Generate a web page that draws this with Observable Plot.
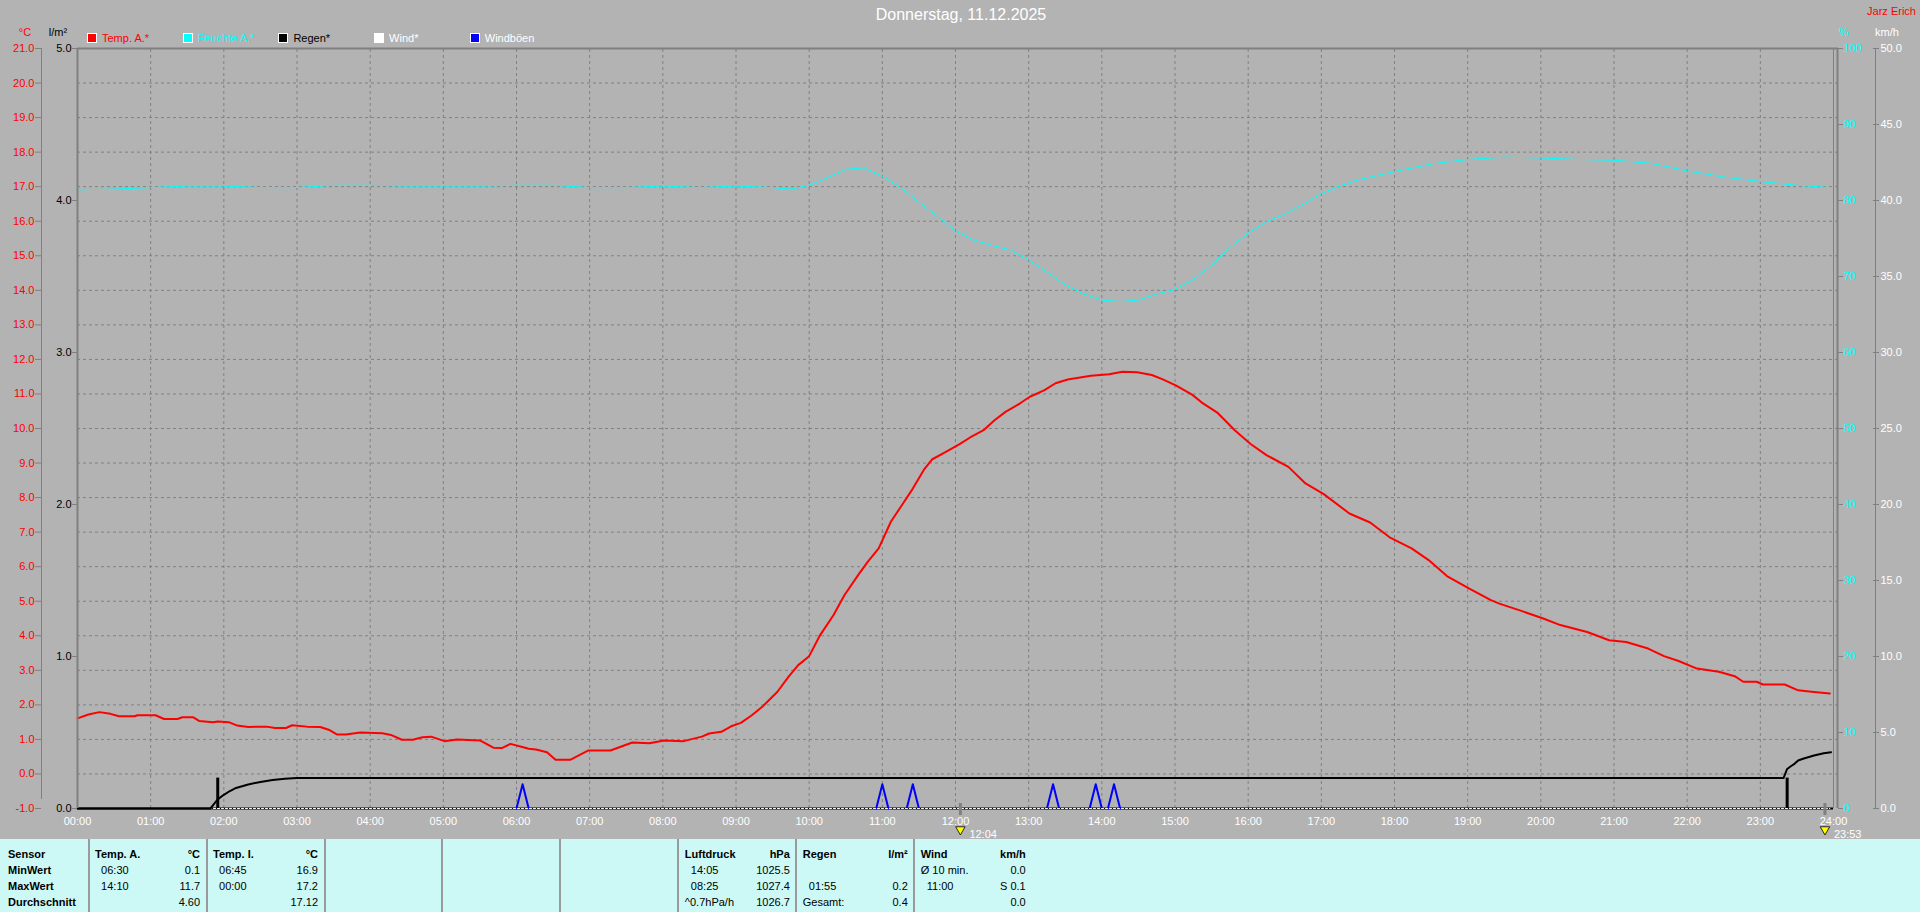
<!DOCTYPE html>
<html><head><meta charset="utf-8">
<script src="https://cdn.jsdelivr.net/npm/d3@7"></script>
<script src="https://cdn.jsdelivr.net/npm/@observablehq/plot@0.6"></script>
<style>
html,body{margin:0;padding:0;background:#b3b3b3;}
#root{position:relative;width:1920px;height:912px;overflow:hidden;font-family:"Liberation Sans",Arial,sans-serif;font-size:11px;background:#b3b3b3;}
.abs{position:absolute;white-space:nowrap;line-height:14px;}
#table{position:absolute;left:0;top:839px;width:1920px;height:73px;background:#ccf9f5;}
</style></head><body><div id="root"><div id="table"></div></div>
<script>
// ---------- DATA ----------
const chartTitle = "Donnerstag, 11.12.2025";
const stationName = "Jarz Erich";

const hourTicks = [0,1,2,3,4,5,6,7,8,9,10,11,12,13,14,15,16,17,18,19,20,21,22,23,24];
const tempTicks = [-1,0,1,2,3,4,5,6,7,8,9,10,11,12,13,14,15,16,17,18,19,20,21];
const rainTicks = [0,1,2,3,4,5];
const humTicks = [0,10,20,30,40,50,60,70,80,90,100];
const windTicks = [0,5,10,15,20,25,30,35,40,45,50];

const legendLabels = ["Temp. A.*","Feuchte A.*","Regen*","Wind*","Windböen"];
const legendColors = ["#ff0000","#00ffff","#000000","#ffffff","#0000ff"];
const legendTextColors = ["#ff0000","#00ffff","#000000","#ffffff","#ffffff"];

const tempTimes = ["00:00","00:09","00:18","00:27","00:34","00:47","00:49","01:04","01:11","01:22","01:26","01:35","01:40","01:51","01:55","02:04","02:11","02:20","02:35","02:42","02:51","02:56","03:08","03:19","03:26","03:33","03:40","03:52","04:10","04:17","04:26","04:35","04:43","04:50","05:01","05:11","05:30","05:41","05:48","05:55","06:04","06:10","06:16","06:25","06:32","06:44","06:59","07:17","07:35","07:49","08:01","08:17","08:32","08:38","08:48","08:56","09:04","09:13","09:22","09:34","09:43","09:51","10:00","10:09","10:20","10:29","10:41","10:48","10:57","11:07","11:16","11:25","11:34","11:41","11:51","12:03","12:12","12:23","12:32","12:41","12:53","13:01","13:13","13:22","13:32","13:51","14:06","14:17","14:29","14:41","14:50","15:01","15:14","15:22","15:35","15:49","16:02","16:15","16:33","16:47","17:02","17:23","17:40","17:56","18:14","18:28","18:43","19:01","19:19","19:26","19:44","20:02","20:16","20:38","20:56","21:10","21:28","21:41","21:53","22:08","22:26","22:39","22:46","22:57","23:02","23:20","23:31","23:42","23:57"];
const tempValues = [1.61,1.72,1.79,1.74,1.67,1.67,1.70,1.70,1.59,1.59,1.64,1.64,1.53,1.50,1.52,1.50,1.40,1.36,1.37,1.33,1.33,1.41,1.37,1.36,1.28,1.14,1.14,1.20,1.18,1.13,0.99,0.99,1.06,1.08,0.95,1.00,0.97,0.76,0.75,0.87,0.79,0.73,0.71,0.63,0.41,0.41,0.68,0.68,0.91,0.89,0.97,0.95,1.08,1.17,1.22,1.38,1.48,1.70,1.96,2.38,2.81,3.15,3.41,4.02,4.60,5.18,5.80,6.14,6.53,7.30,7.78,8.26,8.80,9.11,9.30,9.54,9.74,9.95,10.24,10.48,10.73,10.92,11.11,11.31,11.42,11.53,11.57,11.64,11.63,11.55,11.42,11.24,10.98,10.75,10.45,9.95,9.55,9.23,8.89,8.41,8.10,7.54,7.28,6.85,6.53,6.19,5.73,5.37,5.03,4.93,4.72,4.50,4.31,4.11,3.87,3.82,3.63,3.41,3.27,3.05,2.96,2.83,2.67,2.67,2.59,2.59,2.42,2.38,2.33];

const humTimes = ["00:00","00:30","01:00","01:30","02:00","02:30","03:00","03:30","04:00","04:30","05:00","05:30","06:00","06:30","07:00","07:30","08:00","08:30","09:00","09:30","09:45","10:00","10:15","10:30","10:45","11:00","11:15","11:30","11:45","12:00","12:15","12:30","12:45","13:00","13:15","13:30","13:45","14:00","14:15","14:30","14:45","15:00","15:15","15:30","15:45","16:00","16:15","16:30","16:45","17:00","17:15","17:30","18:00","18:30","19:00","19:30","20:00","20:30","21:00","21:30","22:00","22:30","23:00","23:30","23:57"];
const humValues = [81.4,81.5,81.7,81.9,81.9,81.7,81.7,82.0,82.0,81.9,81.9,81.9,82.0,82.0,81.7,81.7,81.9,81.7,81.9,81.7,81.5,82.0,83.0,84.1,84.3,83.2,81.7,79.8,77.9,76.0,74.8,74.1,73.5,72.2,70.6,68.9,67.7,66.9,66.7,66.9,67.7,68.3,69.6,71.5,73.8,75.7,77.2,78.2,79.5,80.9,81.9,82.7,83.8,84.8,85.4,85.7,85.6,85.4,85.3,84.9,83.9,83.1,82.5,82.0,81.7];

const rainTimes = ["00:00","01:49","01:52","01:55","02:00","02:05","02:10","02:20","02:30","02:40","02:50","03:00","23:19","23:22","23:25","23:28","23:31","23:35","23:44","23:52","23:58"];
const rainValues = [0,0,0.03,0.06,0.09,0.115,0.135,0.158,0.175,0.187,0.195,0.2,0.2,0.26,0.278,0.294,0.316,0.327,0.349,0.363,0.37];
const rainBarTimes = ["01:55","23:22"];
const rainBarValues = [0.2,0.2];

const gustTimes = ["06:00","06:05","06:10","10:55","11:00","11:05","11:20","11:25","11:30","13:15","13:20","13:25","13:50","13:55","14:00","14:05","14:10","14:15"];
const gustValues = [0,1.6,0,0,1.6,0,0,1.6,0,0,1.6,0,0,1.6,0,0,1.6,0];

const windTimes = ["00:00","23:57"];
const windValues = [0,0];

const markerTimes = ["12:04","23:53"];

const statRowLabels = ["Sensor","MinWert","MaxWert","Durchschnitt"];
const statHeaders = [["Temp. A.","°C"],["Temp. I.","°C"],null,null,null,["Luftdruck","hPa"],["Regen","l/m²"],["Wind","km/h"]];
const statRows = [
  [["06:30","0.1"],["14:10","11.7"],["","4.60"]],
  [["06:45","16.9"],["00:00","17.2"],["","17.12"]],
  null,null,null,
  [["14:05","1025.5"],["08:25","1027.4"],["^0.7hPa/h","1026.7"]],
  [["",""],["01:55","0.2"],["Gesamt:","0.4"]],
  [["Ø 10 min.","0.0"],["11:00","S 0.1"],["","0.0"]]
];

// ---------- HELPERS ----------
const toH = s => { const [h, m] = s.split(":").map(Number); return h + m / 60; };
const zip = (times, values) => times.map((t, i) => ({h: toH(t), v: values[i], i}));
const rainToY = r => -1 + r * 22 / 5;
const humToY = p => -1 + p * 22 / 100;
const windToY = k => -1 + k * 22 / 50;
const hhmm = h => String(h).padStart(2, "0") + ":00";

const temp = zip(tempTimes, tempValues);
const hum = zip(humTimes, humValues);
const rain = zip(rainTimes, rainValues);
const rainBars = zip(rainBarTimes, rainBarValues);
const gust = zip(gustTimes, gustValues);
const wind = zip(windTimes, windValues);
const markers = markerTimes.map(t => ({h: toH(t), t}));

const grey = "#808080";

const chart = Plot.plot({
  width: 1920, height: 839,
  marginTop: 48, marginRight: 87, marginBottom: 31, marginLeft: 77,
  x: {domain: [0, 24]},
  y: {domain: [-1, 21]},
  style: {background: "transparent", color: "black", fontFamily: "'Liberation Sans', Arial, sans-serif", fontSize: "11px", overflow: "visible"},
  marks: [
    // grid
    Plot.ruleY(tempTicks.filter(v => v > -1 && v < 21), {stroke: grey, strokeDasharray: "3,3", insetRight: -4}),
    Plot.ruleX(hourTicks.filter(h => h > 0 && h < 24), {stroke: grey, strokeDasharray: "3,3", y1: -1, y2: 21}),
    // frame & axis lines
    Plot.ruleX([24], {stroke: grey, y1: -1, y2: 21}),
    Plot.ruleX([24], {stroke: grey, strokeWidth: 2, dx: 4, y1: -1, y2: 21}),
    Plot.ruleX([24], {stroke: grey, dx: 42, y1: -1, y2: 21}),
    Plot.ruleX([0], {stroke: grey, dx: -36, y1: -1, y2: 21, insetTop: -9}),
    Plot.ruleY([21], {stroke: grey, strokeWidth: 2, insetRight: -5}),
    // humidity
    Plot.line(hum, {x: "h", y: d => humToY(d.v), stroke: "#00ffff", strokeWidth: 1}),
    // temperature
    Plot.line(temp, {x: "h", y: "v", stroke: "#ff0000", strokeWidth: 2}),
    // baseline
    Plot.ruleY([-1], {stroke: "#000000", strokeWidth: 2}),
    // gusts
    Plot.line(gust, {x: "h", y: d => windToY(d.v), z: d => Math.floor(d.i / 3), stroke: "#0000ff", strokeWidth: 2}),
    // wind
    Plot.line(wind, {x: "h", y: d => windToY(d.v), stroke: "#ffffff", strokeWidth: 1, strokeDasharray: "2,2"}),
    // rain
    Plot.line(rain, {x: "h", y: d => rainToY(d.v), stroke: "#000000", strokeWidth: 2}),
    Plot.ruleX(rainBars, {x: "h", y1: rainToY(0), y2: d => rainToY(d.v), stroke: "#000000", strokeWidth: 3}),
    Plot.ruleX([0], {stroke: grey, strokeWidth: 2, y1: -1, y2: 21}),
    // time markers
    Plot.ruleX(markers, {x: "h", y1: -1, y2: -1, insetTop: -5, insetBottom: -7, stroke: grey, strokeWidth: 3}),
    Plot.dot(markers, {x: "h", y: -1, dy: 21, symbol: "triangle", rotate: 180, r: 3.5, fill: "#ffff00", stroke: "#000000", strokeWidth: 0.8}),
    Plot.text(markers, {x: "h", y: -1, text: "t", dx: 9, dy: 26, textAnchor: "start", fill: "#ffffff", fontSize: 11}),
    // axes
    Plot.axisX({ticks: hourTicks, tickFormat: hhmm, tickSize: 0, tickPadding: 9, fill: "#ffffff", label: null}),
    Plot.axisY({anchor: "left", ticks: tempTicks, tickFormat: d => d.toFixed(1), dx: -36, tickSize: 6, tickPadding: 1, fill: "#ff0000", stroke: grey, label: null}),
    Plot.axisY({anchor: "left", ticks: rainTicks.map(rainToY), tickFormat: d => ((d + 1) * 5 / 22).toFixed(1), tickSize: 5, tickPadding: 1, fill: "#000000", stroke: grey, label: null}),
    Plot.axisY({anchor: "right", ticks: humTicks.map(humToY), tickFormat: d => String(Math.round((d + 1) * 100 / 22)), dx: 4, tickSize: 5, tickPadding: 1, fill: "#00ffff", stroke: grey, label: null}),
    Plot.axisY({anchor: "right", ticks: windTicks.map(windToY), tickFormat: d => ((d + 1) * 50 / 22).toFixed(1), dx: 39, tickSize: 6, tickPadding: 2, fill: "#ffffff", stroke: grey, label: null})
  ]
});
chart.style.position = "absolute";
chart.style.left = "0px";
chart.style.top = "0px";
const root = document.getElementById("root");
root.appendChild(chart);

// ---------- HTML TEXT ----------
function addText(parent, text, x, yc, {anchor = "start", color = "#000", size = 11, bold = false} = {}) {
  const el = document.createElement("div");
  el.className = "abs";
  el.textContent = text;
  el.style.color = color;
  el.style.fontSize = size + "px";
  el.style.lineHeight = (size + 4) + "px";
  el.style.top = (yc - (size + 4) / 2) + "px";
  if (bold) el.style.fontWeight = "bold";
  if (anchor === "start") el.style.left = x + "px";
  else if (anchor === "end") el.style.right = (1920 - x) + "px";
  else { el.style.left = x + "px"; el.style.transform = "translateX(-50%)"; }
  parent.appendChild(el);
  return el;
}
addText(root, chartTitle, 961, 15, {anchor: "middle", color: "#ffffff", size: 16});
addText(root, stationName, 1916, 11, {anchor: "end", color: "#ff0000", size: 11});
addText(root, "°C", 25, 32, {anchor: "middle", color: "#ff0000"});
addText(root, "l/m²", 58, 32, {anchor: "middle", color: "#000000"});
addText(root, "%", 1844, 32, {anchor: "middle", color: "#00ffff"});
addText(root, "km/h", 1887, 32, {anchor: "middle", color: "#ffffff"});

legendLabels.forEach((lab, i) => {
  const x = 87 + i * 95.7;
  const sq = document.createElement("div");
  sq.style.cssText = `position:absolute;left:${x}px;top:33px;width:10px;height:10px;box-sizing:border-box;border:1px solid #fff;background:${legendColors[i]};`;
  root.appendChild(sq);
  addText(root, lab, x + 15, 38, {color: legendTextColors[i]});
});

// ---------- TABLE ----------
const table = document.getElementById("table");
const rowY = [15, 31, 47, 63];
const colLeft = i => 88.6 + (i - 1) * 117.95;
for (let i = 1; i <= 8; i++) {
  const s = document.createElement("div");
  s.style.cssText = `position:absolute;left:${colLeft(i) - 1}px;top:0;width:2px;height:73px;background:#9a9a9a;`;
  table.appendChild(s);
}
statRowLabels.forEach((lab, r) => addText(table, lab, 8, rowY[r], {bold: true}));
statHeaders.forEach((hd, c) => {
  if (!hd) return;
  const L = colLeft(c + 1), R = colLeft(c + 2) - 6.5;
  addText(table, hd[0], L + 6.5, rowY[0], {bold: true});
  addText(table, hd[1], R, rowY[0], {anchor: "end", bold: true});
  statRows[c].forEach((row, r) => {
    const isTime = /^\d\d:\d\d$/.test(row[0]);
    if (row[0]) addText(table, row[0], L + (isTime ? 12.5 : 6.5), rowY[r + 1]);
    if (row[1]) addText(table, row[1], R, rowY[r + 1], {anchor: "end"});
  });
});
</script></body></html>
